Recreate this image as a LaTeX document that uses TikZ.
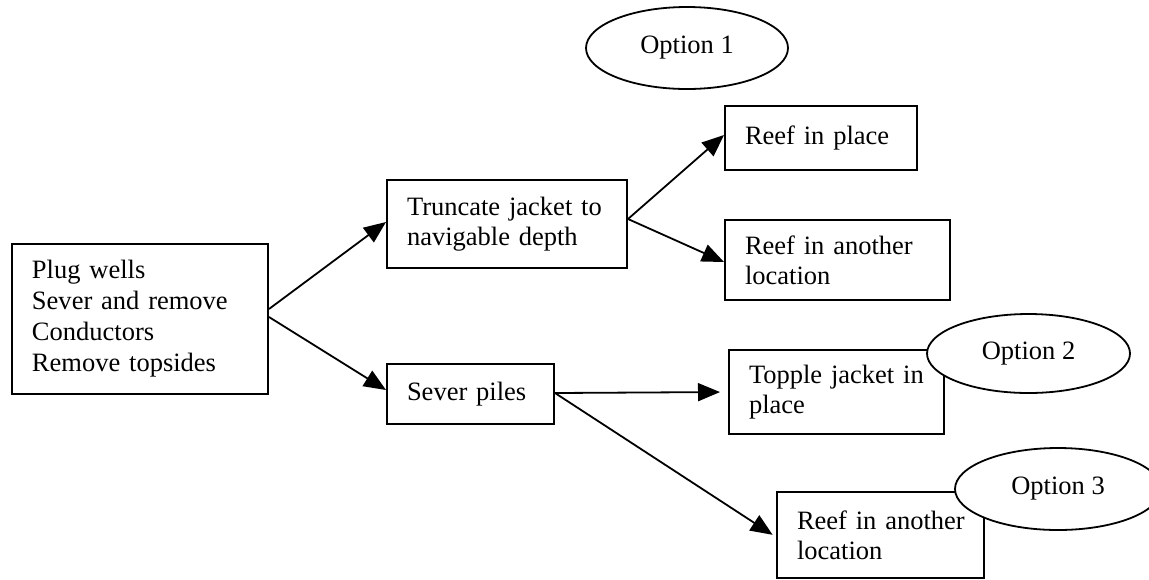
\documentclass[tikz,border=0pt]{standalone}
\usepackage{fontspec}
\setmainfont{Liberation Serif}
\usetikzlibrary{shapes.geometric,arrows.meta,calc}
\tikzset{
  boxnode/.style={draw, line width=1pt, rectangle, align=left, inner xsep=10pt, inner ysep=0pt,
    font=\fontsize{13.25pt}{15pt}\selectfont},
  optnode/.style={draw, ellipse, fill=white, line width=0.9pt, inner sep=0pt,
    font=\fontsize{13.25pt}{15pt}\selectfont},
  conn/.style={line width=0.9pt, -{Triangle[length=11pt,width=9pt]}}
}
\begin{document}
\begin{tikzpicture}[x=0.5pt,y=-0.5pt]
\useasboundingbox (0,0) rectangle (1149,579);
% boxes
\node[boxnode, minimum width=128pt, minimum height=75pt, text width=108pt,
  font=\fontsize{13.25pt}{15.5pt}\selectfont] (main) at (140,319)
  {\mbox{Plug wells}\\\mbox{Sever and remove}\\\mbox{Conductors}\\\mbox{Remove topsides}};
\node[boxnode, minimum width=120pt, minimum height=44pt, text width=100pt] (trunc) at (507,224)
  {\mbox{Truncate jacket to}\\\mbox{navigable depth}};
\node[boxnode, minimum width=83.5pt, minimum height=30pt, text width=63.5pt] (sever) at (470.5,394)
  {\mbox{Sever piles}};
\node[boxnode, minimum width=96pt, minimum height=32pt, text width=76pt] (rip) at (821,138)
  {\mbox{Reef in place}};
\node[boxnode, minimum width=112.5pt, minimum height=40pt, text width=92.5pt] (ria) at (837.5,260)
  {\mbox{Reef in another}\\\mbox{location}};
\node[boxnode, minimum width=107.5pt, minimum height=42pt, text width=87.5pt] (topple) at (836.5,392)
  {\mbox{Topple jacket in}\\\mbox{place}};
\node[boxnode, minimum width=103.5pt, minimum height=43pt, text width=83.5pt] (rib) at (880.5,535)
  {\mbox{Reef in another}\\\mbox{location}};
% connectors
\draw[conn] ($(main.east)+(0,-10)$) -- ($(trunc.west)+(0,-2)$);
\draw[conn] ($(main.east)+(0,-2)$) -- ($(sever.west)+(0,-4)$);
\draw[conn] ($(trunc.east)+(0,-5)$) -- ($(rip.west)+(0,-3)$);
\draw[conn] ($(trunc.east)+(0,-5)$) -- ($(ria.west)+(0,2)$);
\draw[conn, shorten >=4pt] ($(sever.east)+(0,-1)$) -- (topple.west);
\draw[conn, shorten >=2pt] ($(sever.east)+(0,-1)$) -- ($(rib.west)+(0,2)$);
% option ellipses
\node[optnode, minimum width=101pt, minimum height=41pt] (opt1) at (687,48) {Option 1\hspace{10pt}};
\node[optnode, minimum width=101.5pt, minimum height=39.5pt] (opt2) at (1028.5,353.5) {Option 2\hspace{8pt}};
\node[optnode, minimum width=103pt, minimum height=41pt] (opt3) at (1058,489) {Option 3\hspace{10pt}};
\end{tikzpicture}
\end{document}
